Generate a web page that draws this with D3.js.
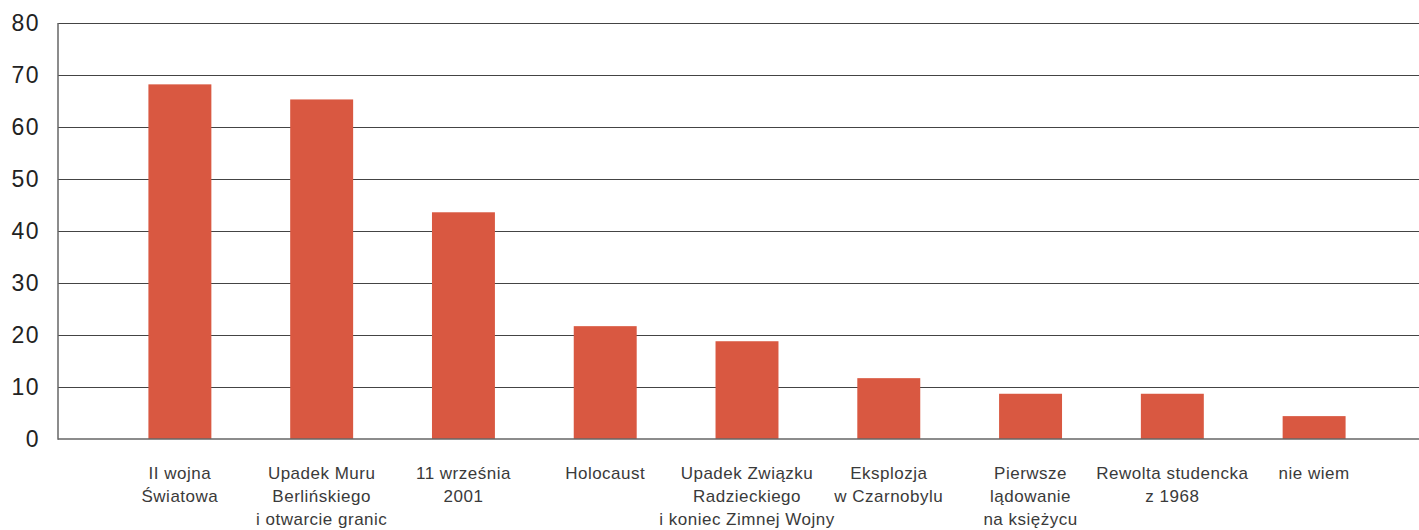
<!DOCTYPE html>
<html>
<head>
<meta charset="utf-8">
<script src="https://cdn.jsdelivr.net/npm/d3@7"></script>
<style>
  body { margin: 0; background: #fff; }
  svg { display: block; font-family: "Liberation Sans", Arial, sans-serif; }
</style>
</head>
<body>
<div id="chart"></div>
<script>
// Data
const categories = [
  ['II wojna', 'Światowa'],
  ['Upadek Muru', 'Berlińskiego', 'i otwarcie granic'],
  ['11 września', '2001'],
  ['Holocaust'],
  ['Upadek Związku', 'Radzieckiego', 'i koniec Zimnej Wojny'],
  ['Eksplozja', 'w Czarnobylu'],
  ['Pierwsze', 'lądowanie', 'na księżycu'],
  ['Rewolta studencka', 'z 1968'],
  ['nie wiem']
];
const values = [68.2, 65.3, 43.6, 21.7, 18.8, 11.7, 8.7, 8.7, 4.4];
const yTicks = [0, 10, 20, 30, 40, 50, 60, 70, 80];

const width = 1419, height = 530;
const margin = { top: 23, left: 58, bottom: 91 };
const plotBottom = height - margin.bottom;

const svg = d3.select('#chart').append('svg')
  .attr('width', width)
  .attr('height', height);

// bars sit between x=109 and x=1385 (the plot itself runs on to the right edge)
const x = d3.scaleBand()
  .domain(d3.range(categories.length))
  .range([109, 1385])
  .paddingInner(0.556)
  .paddingOuter(0.278);

const y = d3.scaleLinear()
  .domain([0, 80])
  .range([plotBottom, margin.top]);

// gridlines
svg.append('g')
  .selectAll('line')
  .data(yTicks.filter(d => d > 0))
  .join('line')
  .attr('x1', margin.left)
  .attr('x2', width)
  .attr('y1', d => Math.round(y(d)) + 0.5)
  .attr('y2', d => Math.round(y(d)) + 0.5)
  .attr('stroke', '#444')
  .attr('stroke-width', 1.2);

// bars
svg.append('g')
  .selectAll('rect')
  .data(values)
  .join('rect')
  .attr('x', (d, i) => x(i))
  .attr('width', x.bandwidth())
  .attr('y', d => y(d))
  .attr('height', d => y(0) - y(d))
  .attr('fill', '#d95841');

// baseline and left axis line
svg.append('line')
  .attr('x1', margin.left).attr('x2', width)
  .attr('y1', y(0)).attr('y2', y(0))
  .attr('stroke', '#666').attr('stroke-width', 1.5);
svg.append('line')
  .attr('x1', margin.left).attr('x2', margin.left)
  .attr('y1', y(80)).attr('y2', y(0) + 0.75)
  .attr('stroke', '#666').attr('stroke-width', 1.5);

// y tick labels
svg.append('g')
  .selectAll('text')
  .data(yTicks)
  .join('text')
  .attr('x', 40)
  .attr('y', d => y(d))
  .attr('dy', '0.36em')
  .attr('text-anchor', 'end')
  .attr('font-size', 23)
  .attr('letter-spacing', 1.5)
  .attr('fill', '#222')
  .text(d => d);

// category labels
const labels = svg.append('g')
  .selectAll('text')
  .data(categories)
  .join('text')
  .attr('text-anchor', 'middle')
  .attr('font-size', 17)
  .attr('letter-spacing', 0.5)
  .attr('fill', '#3a3a3a')
  .attr('x', (d, i) => x(i) + x.bandwidth() / 2)
  .attr('y', 479);

labels.selectAll('tspan')
  .data(d => d)
  .join('tspan')
  .attr('x', function() { return this.parentNode.getAttribute('x'); })
  .attr('dy', (d, i) => i === 0 ? 0 : 23)
  .text(d => d);
</script>
</body>
</html>
